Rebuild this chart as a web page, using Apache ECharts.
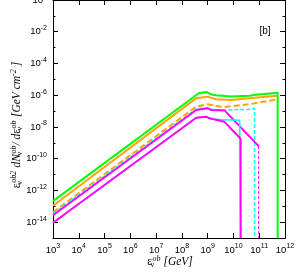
<!DOCTYPE html>
<html><head><meta charset="utf-8">
<script src="https://cdn.jsdelivr.net/npm/echarts@6/dist/echarts.min.js"></script>
<style>html,body{margin:0;padding:0;background:#fff}#c{width:300px;height:279px}</style>
</head><body><div id="c"></div>
<script>
// tick values
const xTicks = [1e3,1e4,1e5,1e6,1e7,1e8,1e9,1e10,1e11,1e12];
const yMajorTicks = [1e-14,1e-12,1e-10,1e-8,1e-6,1e-4,1e-2,1e0];
const yMinorTicks = [1e-15,1e-13,1e-11,1e-9,1e-7,1e-5,1e-3,1e-1];

// series values (energy in GeV, flux in GeV cm^-2)
const greenX = [1e3, 4.0e8, 4.9e8, 9.1e8, 1.4e9, 2.1e9, 8.1e9, 4.2e10, 7.6e10, 5.2e11, 5.2e11];
const greenY = [2.1e-13, 1.15e-6, 1.38e-6, 1.58e-6, 1.12e-6, 1.0e-6, 8.3e-7, 9.3e-7, 1.07e-6, 1.45e-6, 1e-15];

const orangeX = [1e3, 3.6e8, 9.5e8, 2.1e9, 8.1e9, 6.6e10, 5.2e11];
const orangeY = [1.07e-13, 6.5e-7, 8.1e-7, 5.5e-7, 5.0e-7, 6.8e-7, 9.3e-7];

const orangeDashX = [1e3, 3.6e8, 1.02e9, 3.9e9, 4.2e10, 5.2e11];
const orangeDashY = [4.2e-14, 1.9e-7, 2.7e-7, 1.74e-7, 2.7e-7, 5.5e-7];

const cyanDashX = [1e3, 3.6e8, 1.02e9, 1.4e9, 4.5e9, 4.2e10, 6.6e10, 6.6e10];
const cyanDashY = [3.4e-14, 1.35e-7, 1.66e-7, 1.26e-7, 1.17e-7, 1.29e-7, 1.48e-7, 1e-15];

const magentaDashX = [1e3, 3.6e8, 1.02e9, 1.4e9, 4.5e9, 9.5e10];
const magentaDashY = [2.7e-14, 1.17e-7, 1.48e-7, 1.17e-7, 1.1e-7, 6.2e-10];
const magentaDropX = [9.5e10, 9.5e10];
const magentaDropY = [6.2e-10, 1e-15];

const cyanX = [1e3, 3.6e8, 8.9e8, 1.38e9, 1.74e10, 1.9e10, 1.9e10];
const cyanY = [9.1e-15, 3.8e-8, 4.4e-8, 3.0e-8, 2.6e-8, 2.5e-8, 1e-15];

const magentaX = [1e3, 3.6e8, 8.9e8, 1.18e9, 4.5e9, 1.9e10, 1.9e10];
const magentaY = [9.1e-15, 3.8e-8, 4.4e-8, 3.5e-8, 2.1e-8, 1.8e-9, 1e-15];

function zip(xs, ys){ return xs.map((x,i)=>[x, ys[i]]); }
function powLabel(v){ const e = Math.round(Math.log10(v)); return '{b|10}{s|' + e + '}'; }

const labelRich = {
  b: {fontSize: 9.5, fontFamily: 'Liberation Sans', color: '#000'},
  s: {fontSize: 7, fontFamily: 'Liberation Sans', color: '#000', padding: [0,0,7,0]}
};
const axLine = {show: true, lineStyle: {color: '#000', width: 1}};

function yAx(pos, ticks, len, labels){
  return {
    type: 'log', logBase: 10, min: 1e-15, max: 1e0, position: pos,
    axisLine: axLine,
    axisTick: {show: true, inside: true, length: len, customValues: ticks, lineStyle: {color: '#000', width: 1}},
    axisLabel: labels ? {show: true, customValues: yMajorTicks, formatter: powLabel, rich: labelRich, margin: 6} : {show: false},
    splitLine: {show: false}, minorTick: {show: false}
  };
}
function xAx(pos, labels){
  return {
    type: 'log', logBase: 10, min: 1e3, max: 1e12, position: pos,
    axisLine: axLine,
    axisTick: {show: true, inside: true, length: 5, customValues: xTicks, lineStyle: {color: '#000', width: 1}},
    axisLabel: labels ? {show: true, customValues: xTicks, formatter: powLabel, rich: labelRich, margin: 5} : {show: false},
    splitLine: {show: false}
  };
}

function line(xs, ys, color, width, type){
  return {type: 'line', data: zip(xs, ys), symbol: 'none', showSymbol: false, clip: true,
    lineStyle: {color: color, width: width, type: type}, itemStyle: {color: color}, animation: false};
}

const titleRich = {
  e: {fontFamily: 'Liberation Serif', fontStyle: 'italic', fontSize: 11.5, color: '#000'},
  g: {fontFamily: 'Liberation Serif', fontSize: 11.5, color: '#000'},
  sb: {fontFamily: 'Liberation Serif', fontSize: 8, color: '#000', padding: [6,0,0,0], width: 0.5},
  sp: {fontFamily: 'Liberation Serif', fontStyle: 'italic', fontSize: 8, color: '#000', padding: [0,0,7,0]}
};

const chart = echarts.init(document.getElementById('c'), null, {renderer: 'canvas'});
chart.setOption({
  animation: false,
  backgroundColor: '#fff',
  grid: {left: 53, right: 15, top: 0, bottom: 41, containLabel: false, outerBoundsMode: 'none'},
  xAxis: [xAx('bottom', true), xAx('top', false)],
  yAxis: [yAx('left', yMajorTicks, 5, true), yAx('left', yMinorTicks, 2.5, false),
          yAx('right', yMajorTicks, 5, false), yAx('right', yMinorTicks, 2.5, false)],
  series: [
    line(orangeX, orangeY, '#ffa500', 2, 'solid'),
    line(orangeDashX, orangeDashY, '#ffa500', 2, [6,3]),
    line(cyanDashX, cyanDashY, '#00ffff', 1.5, [4,2]),
    line(magentaDashX, magentaDashY, '#ff00ff', 2, 'solid'),
    line(magentaDropX, magentaDropY, '#ff00ff', 1, [3,2]),
    line(cyanX, cyanY, '#00ffff', 1.5, 'solid'),
    line(magentaX, magentaY, '#ff00ff', 2, 'solid'),
    line(greenX, greenY, '#00ff00', 2, 'solid')
  ],
  graphic: [
    {type: 'text', x: 17, y: 125, rotation: Math.PI/2, style: {
      text: '{g|ε}{sb|ν}{sp|ob2} {e|dN}{sb|ν}{sp|ob}{e|/ d}{g|ε}{sb|ν}{sp|ob} {e|[GeV cm}{sp|-2}{e| ]}',
      rich: titleRich, align: 'center', verticalAlign: 'middle'}},
    {type: 'text', x: 170, y: 262, style: {
      text: '{g|ε}{sb|ν}{sp|ob}{e| [GeV]}',
      rich: titleRich, align: 'center', verticalAlign: 'middle'}},
    {type: 'text', x: 265, y: 31, style: {text: '[b]', fontFamily: 'Liberation Sans', fontSize: 10, fill: '#000', align: 'center', verticalAlign: 'middle'}}
  ]
});
</script></body></html>
